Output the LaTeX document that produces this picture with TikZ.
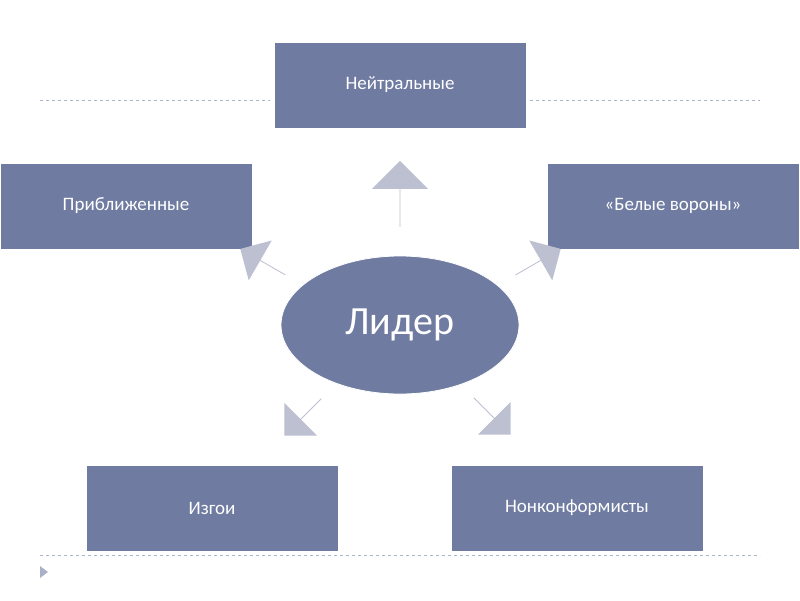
\documentclass[tikz,border=0pt]{standalone}
\usepackage{fontspec}
\setmainfont{Carlito}
\usetikzlibrary{shapes.geometric,shapes.arrows}
\definecolor{boxc}{HTML}{6F7BA1}
\definecolor{arrc}{HTML}{BCC0D1}
\definecolor{linec}{HTML}{A9B8C6}
\tikzset{
 box/.style={draw=white,line width=0.8pt,fill=boxc,text=white,minimum width=252pt,minimum height=86pt,inner sep=0pt,font=\fontsize{19}{22}\selectfont},
 barrow/.style={single arrow,fill=arrc,draw=none,minimum height=66pt,minimum width=56pt,single arrow head extend=14pt,inner sep=0pt},
 sarrow/.style={single arrow,fill=arrc,draw=none,minimum height=52pt,minimum width=46pt,single arrow head extend=11pt,inner sep=0pt},
 guide/.style={draw=linec,dashed,line width=0.6pt}
}
\begin{document}
\begin{tikzpicture}[x=1pt,y=-1pt]
\useasboundingbox[fill=white] (0,0) rectangle (800,600);
\draw[guide] (40,100) -- (270,100) (530,100) -- (760,100);
\draw[guide] (40,555) -- (760,555);
\fill[boxc!60] (40,566) -- (48,572) -- (40,578) -- cycle;
\node[box] (n) at (400,85) {Нейтральные};
\node[box] (p) at (126,206) {Приближенные};
\node[box] (w) at (673,206) {«Белые вороны»};
\node[box] (i) at (212,508) {Изгои};
\node[box] (k) at (577,508) {Нонконформисты};
\node[ellipse,fill=boxc,draw=white,line width=0.8pt,text=white,minimum width=238pt,minimum height=138pt,font=\fontsize{40}{46}\selectfont] (l) at (400,325) {Лидер};
\node[barrow,rotate=90] (a1) at (400,194) {};
\node[sarrow,rotate=150] (a2) at (263,262) {};
\node[sarrow,rotate=30] (a3) at (538,262) {};
\node[sarrow,rotate=225] (a4) at (303,417) {};
\node[sarrow,rotate=-45] (a5) at (492,416) {};
\end{tikzpicture}
\end{document}
